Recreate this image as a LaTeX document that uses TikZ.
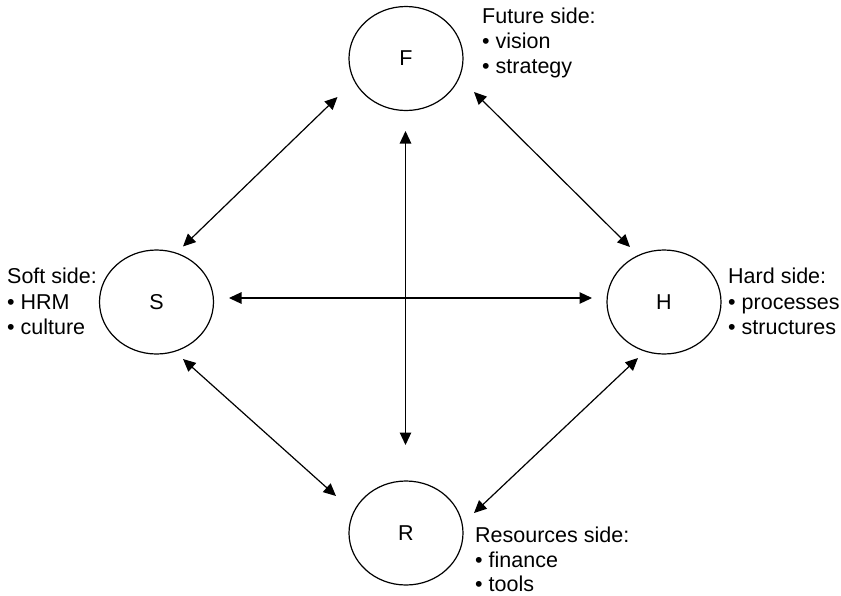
\documentclass[tikz,border=0pt]{standalone}
\usepackage{fontspec}
\setmainfont{Liberation Sans}
\usetikzlibrary{arrows.meta,shapes.geometric}
\begin{document}
\begin{tikzpicture}[x=1pt,y=-1pt,
  side/.style={draw=black, line width=1.2pt, ellipse, minimum width=114pt,
    minimum height=104pt, inner sep=0pt, font=\fontsize{21.5}{25.5}\selectfont},
  link/.style={line width=1.2pt,
    {Triangle[length=12.5pt,width=11.5pt]}-{Triangle[length=12.5pt,width=11.5pt]}},
  note/.style={anchor=base west, inner sep=0pt, font=\fontsize{21.5}{25.5}\selectfont}]
\useasboundingbox (0,0) rectangle (841,595);

% the four sides
\node[side] (F) at (406,58.5) {F};
\node[side] (S) at (156.5,302) {S};
\node[side] (H) at (664,302) {H};
\node[side] (R) at (406,533) {R};

% descriptions
\node[note] (fut1) at (482,23) {Future side:};
\node[note] (fut2) at (482,48) {• vision};
\node[note] (fut3) at (482,73) {• strategy};

\node[note] (soft1) at (7,283) {Soft side:};
\node[note] (soft2) at (7,309) {• HRM};
\node[note] (soft3) at (7,334) {• culture};

\node[note] (hard1) at (728,283) {Hard side:};
\node[note] (hard2) at (728,309) {• processes};
\node[note] (hard3) at (728,334) {• structures};

\node[note] (res1) at (475,542.5) {Resources side:};
\node[note] (res2) at (475,567) {• finance};
\node[note] (res3) at (475,591.5) {• tools};

% arrow ends
\coordinate (fs-f) at (337.5,97);
\coordinate (fs-s) at (183,246.5);
\coordinate (fh-f) at (474,92);
\coordinate (fh-h) at (630,247);
\coordinate (fr-f) at (405.5,131);
\coordinate (fr-r) at (405.5,445);
\coordinate (sh-s) at (229,298);
\coordinate (sh-h) at (592,298);
\coordinate (sr-s) at (183,359);
\coordinate (sr-r) at (336,496);
\coordinate (hr-h) at (638,358);
\coordinate (hr-r) at (474,513);

% two-way links
\draw[link] (fs-f) -- (fs-s);
\draw[link] (fh-f) -- (fh-h);
\draw[link] (fr-f) -- (fr-r);
\draw[link] (sh-s) -- (sh-h);
\draw[link] (sr-s) -- (sr-r);
\draw[link] (hr-h) -- (hr-r);
\end{tikzpicture}
\end{document}
